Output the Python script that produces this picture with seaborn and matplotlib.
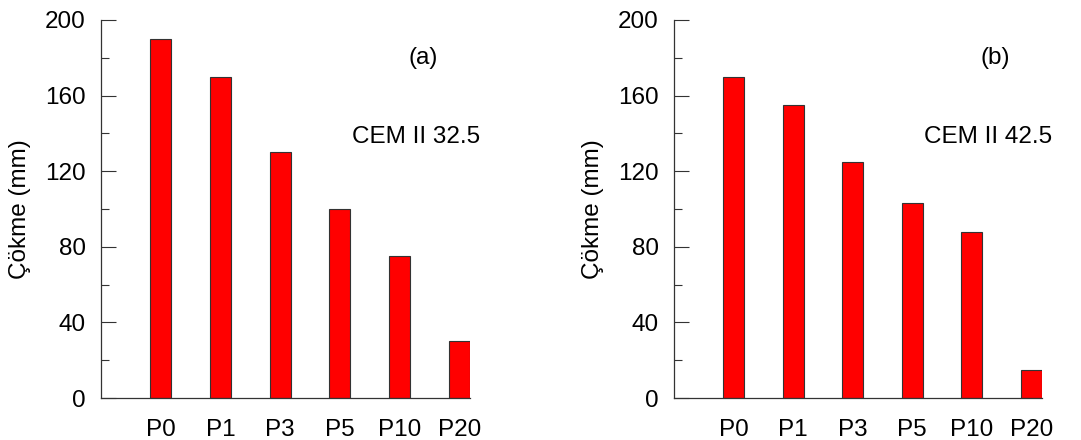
import matplotlib
matplotlib.use('Agg')
import matplotlib.pyplot as plt
import seaborn as sns
import pandas as pd
from matplotlib.ticker import MultipleLocator

# Slump values
mixes = ['P0', 'P1', 'P3', 'P5', 'P10', 'P20']
slump_a = [190, 170, 130, 100, 75, 30]
slump_b = [170, 155, 125, 103, 88, 15]
panel_tags = ['(a)', '(b)']
cement_types = ['CEM II 32.5', 'CEM II 42.5']

sns.set_style('ticks')
plt.rcParams['font.family'] = ['Liberation Sans', 'DejaVu Sans']
plt.rcParams['text.color'] = 'black'
plt.rcParams['axes.labelcolor'] = 'black'
plt.rcParams['xtick.color'] = 'black'
plt.rcParams['ytick.color'] = 'black'

fig = plt.figure(figsize=(10.81, 4.40), dpi=100)
W, H = 1081, 440
boxes = [(101, 470), (674, 1042)]

for (x0, x1), vals, tag, cem in zip(boxes, [slump_a, slump_b], panel_tags, cement_types):
    ax = fig.add_axes([x0 / W, (H - 398) / H, (x1 - x0) / W, (398 - 20) / H])
    df = pd.DataFrame({'mix': mixes, 'slump': vals})
    sns.barplot(data=df, x='mix', y='slump', color='#ff0000', saturation=1,
                width=0.35, edgecolor='#333333', linewidth=0.8, ax=ax)
    ax.set_xlim(-1, 5.18)
    ax.set_ylim(0, 200)
    ax.yaxis.set_major_locator(MultipleLocator(40))
    ax.yaxis.set_minor_locator(MultipleLocator(20))
    ax.tick_params(axis='y', which='major', direction='in', length=11, width=0.8,
                   labelsize=17.5, pad=11, color='#333333')
    ax.tick_params(axis='y', which='minor', direction='in', length=6, width=0.8,
                   color='#333333')
    ax.tick_params(axis='x', length=0, labelsize=17.5, pad=15)
    sns.despine(ax=ax)
    for s in ['left', 'bottom']:
        ax.spines[s].set_linewidth(0.9)
        ax.spines[s].set_color('#333333')
    ax.set_xlabel('')
    ax.set_ylabel('Çökme (mm)', fontsize=17.5, labelpad=10)
    ax.text(4.4, 180, tag, fontsize=17.5, ha='center', va='center')
    ax.text(4.27, 138, cem, fontsize=17.5, ha='center', va='center')

fig.savefig('out.png', dpi=100)
